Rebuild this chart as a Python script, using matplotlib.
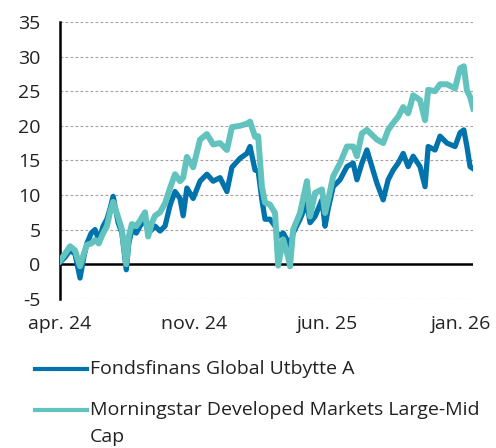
import pandas as pd
import matplotlib.pyplot as plt
from matplotlib.lines import Line2D

# === DATA (% return) ===
DATES = [
    '2024-04-01', '2024-04-09', '2024-04-17', '2024-04-25', '2024-05-03', '2024-05-09',
    '2024-05-14', '2024-05-21', '2024-05-27', '2024-06-02', '2024-06-09', '2024-06-15',
    '2024-06-20', '2024-06-25', '2024-07-03', '2024-07-09', '2024-07-16', '2024-07-20',
    '2024-07-25', '2024-08-01', '2024-08-07', '2024-08-15', '2024-08-20', '2024-08-26',
    '2024-08-31', '2024-09-08', '2024-09-16', '2024-09-24', '2024-10-02', '2024-10-10',
    '2024-10-15', '2024-10-21', '2024-10-31', '2024-11-11', '2024-11-22', '2024-12-02',
    '2024-12-13', '2024-12-24', '2025-01-01', '2025-01-14', '2025-01-25', '2025-01-30',
    '2025-02-07', '2025-02-12', '2025-02-18', '2025-02-23', '2025-03-03', '2025-03-11',
    '2025-03-16', '2025-03-24', '2025-04-01', '2025-04-04', '2025-04-09', '2025-04-20',
    '2025-05-01', '2025-05-06', '2025-05-14', '2025-05-25', '2025-05-30', '2025-06-04',
    '2025-06-12', '2025-06-23', '2025-07-04', '2025-07-14', '2025-07-20', '2025-07-28',
    '2025-08-05', '2025-08-13', '2025-08-21', '2025-08-31', '2025-09-08', '2025-09-16',
    '2025-09-24', '2025-10-02', '2025-10-10', '2025-10-18', '2025-10-29', '2025-11-06',
    '2025-11-11', '2025-11-22', '2025-11-30', '2025-12-11', '2025-12-24', '2026-01-01',
    '2026-01-07', '2026-01-12', '2026-01-17', '2026-01-22',
]

FUND = [
    0.3, 1.0, 2.0, 1.5, -2.0, 1.0,
    3.0, 4.5, 5.0, 3.5, 5.5, 6.5,
    8.0, 9.8, 6.0, 4.5, -0.8, 3.0,
    5.0, 4.5, 5.5, 6.5, 4.5, 5.0,
    5.5, 4.8, 5.5, 8.5, 10.5, 9.5,
    7.0, 11.0, 9.5, 12.0, 13.0, 12.0,
    12.5, 10.5, 14.0, 15.3, 16.0, 17.0,
    13.6, 13.5, 9.3, 6.5, 6.5, 5.5,
    4.0, 4.5, 3.2, 2.5, 4.5, 6.5,
    8.9, 6.0, 6.9, 9.3, 5.5, 8.0,
    11.2, 12.2, 14.1, 14.6, 12.2, 14.6,
    16.5, 14.1, 11.7, 9.3, 12.2, 13.6,
    14.6, 16.0, 14.1, 15.6, 14.1, 11.2,
    17.0, 16.5, 18.5, 17.5, 17.0, 19.0,
    19.4, 17.0, 14.1, 13.8,
]

BENCH = [
    0.5, 1.5, 2.6, 2.0, -0.3, 1.5,
    2.8, 3.0, 3.5, 3.0, 4.5, 5.5,
    7.5, 9.0, 6.8, 5.0, 0.0, 4.0,
    5.8, 5.5, 6.3, 7.5, 4.0, 6.0,
    7.0, 7.5, 8.8, 11.0, 13.0, 12.0,
    12.5, 15.5, 14.0, 18.0, 18.8, 17.3,
    17.5, 16.5, 19.8, 20.0, 20.3, 20.6,
    18.4, 18.5, 11.2, 8.9, 8.6, 7.4,
    -0.2, 3.6, 1.0, -0.3, 5.0, 7.4,
    12.0, 6.9, 10.3, 10.8, 7.4, 9.3,
    12.7, 14.6, 17.0, 17.0, 15.6, 18.9,
    19.4, 18.7, 18.0, 17.5, 19.4, 20.4,
    21.3, 22.7, 21.8, 24.4, 23.7, 20.8,
    25.2, 25.0, 26.0, 26.0, 25.4, 28.3,
    28.6, 25.1, 24.2, 22.5,
]

FUND_LABEL = 'Fondsfinans Global Utbytte A'
BENCH_LABEL_1 = 'Morningstar Developed Markets Large-Mid'
BENCH_LABEL_2 = 'Cap'
X_TICKS = ['2024-04-01', '2024-11-01', '2025-06-01', '2026-01-01']
X_TICK_LABELS = ['apr. 24', 'nov. 24', 'jun. 25', 'jan. 26']
Y_TICKS = [-5, 0, 5, 10, 15, 20, 25, 30, 35]

BLUE = '#0073AD'
TEAL = '#62C3BE'

# === PLOTTING ===
plt.rcParams['font.family'] = ['Open Sans', 'DejaVu Sans']

dates = pd.to_datetime(DATES)

fig = plt.figure(figsize=(4.96, 4.48), dpi=100)
ax = fig.add_axes([0.121, 0.333, 0.833, 0.618])

ax.plot(dates, FUND, color=BLUE, linewidth=3.8, solid_joinstyle='round', zorder=3)
ax.plot(dates, BENCH, color=TEAL, linewidth=4.3, solid_joinstyle='round', zorder=4)

ax.set_xlim(pd.Timestamp('2024-04-01'), pd.Timestamp('2026-01-22'))
ax.set_ylim(-5, 35)
ax.set_yticks(Y_TICKS)
ax.set_yticklabels([str(v) for v in Y_TICKS])
ax.set_xticks(pd.to_datetime(X_TICKS))
ax.set_xticklabels(X_TICK_LABELS)

for v in Y_TICKS:
    if v != 0:
        ax.axhline(v, color='#a8a0a0', linewidth=0.8, linestyle=(0, (2.5, 2)), zorder=1)
ax.axhline(0, color='black', linewidth=1.8, zorder=2)

for s in ['top', 'right', 'bottom']:
    ax.spines[s].set_visible(False)
ax.spines['left'].set_linewidth(1.8)
ax.spines['left'].set_color('black')

ax.tick_params(axis='both', length=0, labelsize=14, colors='#222222')
ax.tick_params(axis='y', pad=14)
ax.tick_params(axis='x', pad=12)

# legend drawn by hand to match the layout
fig.add_artist(Line2D([35 / 496, 87 / 496], [1 - 369 / 448] * 2, color=BLUE, linewidth=3.0))
fig.text(90 / 496, 1 - 369 / 448, FUND_LABEL, fontsize=14, va='center', color='#222222')
fig.add_artist(Line2D([35 / 496, 87 / 496], [1 - 410 / 448] * 2, color=TEAL, linewidth=3.0))
fig.text(90 / 496, 1 - 410 / 448, BENCH_LABEL_1, fontsize=14, va='center', color='#222222')
fig.text(90 / 496, 1 - 437 / 448, BENCH_LABEL_2, fontsize=14, va='center', color='#222222')

plt.savefig('out.png', dpi=100)
